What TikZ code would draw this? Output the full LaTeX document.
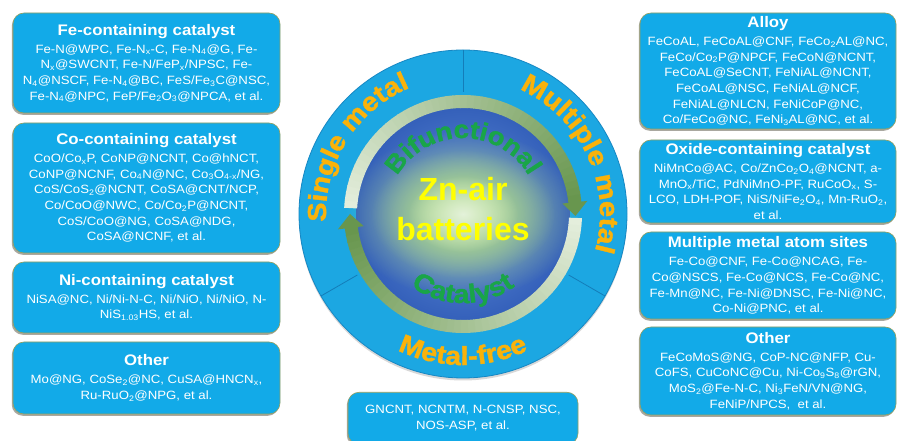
\documentclass[tikz,border=0pt]{standalone}
\usepackage{fontspec}
\setmainfont{Liberation Sans}
\newfontfamily\boxfont{Liberation Sans}[FakeStretch=1.1]
\newfontfamily\arcfont{Liberation Sans Bold}[FakeStretch=1.1, FakeBold=1.6]
\usetikzlibrary{shadows,decorations.text,fadings,backgrounds}
\definecolor{boxcyan}{RGB}{18,170,232}
\definecolor{ringcyan}{RGB}{28,167,226}
\definecolor{ringedge}{RGB}{22,135,195}
\definecolor{divline}{RGB}{20,125,185}
\definecolor{boxedge}{RGB}{150,160,95}
\definecolor{connblue}{RGB}{125,160,220}
\definecolor{conngreen}{RGB}{140,190,100}
\definecolor{goldtxt}{RGB}{250,178,10}
\definecolor{greentxt}{RGB}{25,165,72}
\definecolor{zntxt}{RGB}{255,255,0}
\definecolor{diskin}{RGB}{100,145,218}
\definecolor{diskout}{RGB}{52,96,186}
\definecolor{glowc}{RGB}{175,218,135}
\definecolor{glowcore}{RGB}{228,242,218}
\definecolor{arrpale}{RGB}{228,238,220}
\definecolor{arrdark}{RGB}{104,150,78}
\newcommand{\lo}[1]{\textsubscript{#1}}
\newcommand{\ttl}[1]{{\bfseries\fontsize{15.3}{18}\selectfont #1}}
\tikzfading[name=glowfade, inner color=transparent!0, outer color=transparent!100]
\tikzset{
  catbox/.style={rounded corners=11pt, fill=boxcyan, draw=boxedge, line width=0.6pt,
    drop shadow={shadow xshift=-1.2pt, shadow yshift=-1.8pt, opacity=0.45, fill=black!70!olive},
    text=white, align=center, inner sep=0pt, font=\boxfont\fontsize{12}{15.7}\selectfont},
  conn/.style={draw=connblue, line width=0.8pt},
  divider/.style={draw=divline, line width=0.8pt},
  arctext/.style n args={3}{decorate, decoration={text along path, text align=center,
    text color=#1, text={|\arcfont\fontsize{#2}{#2}\selectfont|#3}}},
}
\begin{document}
\begin{tikzpicture}[x=1pt,y=1pt]
\useasboundingbox[fill=white] (0,0) rectangle (898,441);

% left column
\node[catbox, minimum width=267pt, minimum height=100pt] (fe) at (146.5,378) {\ttl{Fe-containing catalyst}\\[2.3pt]
Fe-N@WPC, Fe-N\lo{x}-C, Fe-N\lo{4}@G, Fe-\\
N\lo{x}@SWCNT, Fe-N/FeP\lo{x}/NPSC, Fe-\\
N\lo{4}@NSCF, Fe-N\lo{4}@BC, FeS/Fe\lo{3}C@NSC,\\
Fe-N\lo{4}@NPC, FeP/Fe\lo{2}O\lo{3}@NPCA, et al.};
\node[catbox, minimum width=267pt, minimum height=130pt] (co) at (146.5,253) {\ttl{Co-containing catalyst}\\[2.3pt]
CoO/Co\lo{x}P, CoNP@NCNT, Co@hNCT,\\
CoNP@NCNF, Co\lo{4}N@NC, Co\lo{3}O\lo{4-x}/NG,\\
CoS/CoS\lo{2}@NCNT, CoSA@CNT/NCP,\\
Co/CoO@NWC, Co/Co\lo{2}P@NCNT,\\
CoS/CoO@NG, CoSA@NDG,\\
CoSA@NCNF, et al.};
\node[catbox, minimum width=267pt, minimum height=71pt] (ni) at (146.5,143.5) {\ttl{Ni-containing catalyst}\\[2.3pt]
NiSA@NC, Ni/Ni-N-C, Ni/NiO, Ni/NiO, N-\\
NiS\lo{1.03}HS, et al.};
\node[catbox, minimum width=267pt, minimum height=72pt] (othL) at (146.5,63) {\ttl{Other}\\[2.3pt]
Mo@NG, CoSe\lo{2}@NC, CuSA@HNCN\lo{x},\\
Ru-RuO\lo{2}@NPG, et al.};

% right column
\node[catbox, minimum width=256pt, minimum height=116pt] (alloy) at (768,370) {\ttl{Alloy}\\[2.3pt]
FeCoAL, FeCoAL@CNF, FeCo\lo{2}AL@NC,\\
FeCo/Co\lo{2}P@NPCF, FeCoN@NCNT,\\
FeCoAL@SeCNT, FeNiAL@NCNT,\\
FeCoAL@NSC, FeNiAL@NCF,\\
FeNiAL@NLCN, FeNiCoP@NC,\\
Co/FeCo@NC, FeNi\lo{3}AL@NC, et al.};
\node[catbox, minimum width=256pt, minimum height=83pt] (oxide) at (768,259.5) {\ttl{Oxide-containing catalyst}\\[2.3pt]
NiMnCo@AC, Co/ZnCo\lo{2}O\lo{4}@NCNT, a-\\
MnO\lo{x}/TiC, PdNiMnO-PF, RuCoO\lo{x}, S-\\
LCO, LDH-POF, NiS/NiFe\lo{2}O\lo{4}, Mn-RuO\lo{2},\\
et al.};
\node[catbox, minimum width=256pt, minimum height=87pt] (mmas) at (768,165.5) {\ttl{Multiple metal atom sites}\\[2.3pt]
Fe-Co@CNF, Fe-Co@NCAG, Fe-\\
Co@NSCS, Fe-Co@NCS, Fe-Co@NC,\\
Fe-Mn@NC, Fe-Ni@DNSC, Fe-Ni@NC,\\
Co-Ni@PNC, et al.};
\node[catbox, minimum width=256pt, minimum height=88pt] (othR) at (768,70) {\ttl{Other}\\[2.3pt]
FeCoMoS@NG, CoP-NC@NFP, Cu-\\
CoFS, CuCoNC@Cu, Ni-Co\lo{9}S\lo{8}@rGN,\\
MoS\lo{2}@Fe-N-C, Ni\lo{3}FeN/VN@NG,\\
FeNiP/NPCS,\ \ et al.};

% bottom box
\node[catbox, minimum width=230pt, minimum height=52pt, anchor=north] (mf) at (463,49) {GNCNT, NCNTM, N-CNSP, NSC,\\
NOS-ASP, et al.};

% central circle
\node[circle, minimum size=328pt, inner sep=0pt, fill=ringcyan, draw=ringedge, line width=0.8pt,
  drop shadow={opacity=0.3, shadow xshift=0pt, shadow yshift=-2.5pt}] (ring) at (463,227) {};

\begin{scope}[shift={(ring.center)}]
  \draw[divider] (90:122) -- (90:164);
  \draw[divider] (210:122) -- (210:164);
  \draw[divider] (330:122) -- (330:164);
  % inner disk
  \shade[inner color=diskin, outer color=diskout] (0,0) circle[radius=107];
  \fill[glowc, path fading=glowfade] (0,0) ellipse[x radius=118, y radius=84];
  \fill[glowc, path fading=glowfade] (0,0) ellipse[x radius=92, y radius=64];
  \fill[glowcore, path fading=glowfade] (0,0) ellipse[x radius=55, y radius=38];
  % top arrow (pale left -> dark right)
  \foreach \k in {0,...,47} {
    \pgfmathsetmacro\aa{177-\k*(171/48)}
    \pgfmathsetmacro\bb{177-(\k+1)*(171/48)-0.4}
    \pgfmathsetmacro\pp{100*\k/47}
    \fill[arrdark!\pp!arrpale] (\aa:106) arc[start angle=\aa, end angle=\bb, radius=106]
      -- (\bb:119) arc[start angle=\bb, end angle=\aa, radius=119] -- cycle;
  }
  \fill[arrdark] (6:100) -- (6:125) -- (-1:112.5) -- cycle;
  % bottom arrow (pale right -> dark left)
  \foreach \k in {0,...,47} {
    \pgfmathsetmacro\aa{-2-\k*(171/48)}
    \pgfmathsetmacro\bb{-2-(\k+1)*(171/48)-0.4}
    \pgfmathsetmacro\pp{100*\k/47}
    \fill[arrdark!\pp!arrpale] (\aa:106) arc[start angle=\aa, end angle=\bb, radius=106]
      -- (\bb:119) arc[start angle=\bb, end angle=\aa, radius=119] -- cycle;
  }
  \fill[arrdark] (-173:100) -- (-173:126) -- (-180:113) -- cycle;
  % ring texts
  \path[arctext={goldtxt}{26}{Single metal}] (218:137) arc[start angle=218, end angle=78, radius=137];
  \path[arctext={goldtxt}{26.5}{Multiple metal}] (95:137) arc[start angle=95, end angle=-45, radius=137];
  \path[arctext={goldtxt}{26}{Metal-free}] (200:151) arc[start angle=200, end angle=340, radius=151];
  \path[arctext={greentxt}{25}{Bifunctional}] (170:76) arc[start angle=170, end angle=10, radius=76];
  \path[arctext={greentxt}{26}{Catalyst}] (200:89) arc[start angle=200, end angle=340, radius=89];
  \node[font=\bfseries\fontsize{32}{40}\selectfont, text=zntxt, align=center, inner sep=0pt] (zn) at (0,5) {Zn-air\\batteries};
\end{scope}

% connectors
\begin{scope}[on background layer]
  \coordinate (feK) at (302,305);
  \coordinate (niK) at (288,229);
  \coordinate (olK) at (304,227);
  \coordinate (alK) at (613,259);
  \coordinate (mmK) at (634,239);
  \coordinate (orK) at (614,227);
  \draw[conn] (fe.east) -| (feK) -- (feK -| ring.center);
  \draw[conn] (co.east) -- (co.east -| ring.center);
  \draw[conn] (ni.east) -| (niK) -- (niK -| ring.center);
  \draw[conn] (othL.east) -| (olK);
  \draw[conn] (alloy.west) -| (alK);
  \draw[conn] (oxide.west) -- (oxide.west -| ring.center);
  \draw[conn] (mmas.west) -| (mmK) -- (mmK -| ring.center);
  \draw[conn] (othR.west) -| (orK);
  \draw[conn, draw=conngreen] (mf.north) -- (ring.center);
\end{scope}
\end{tikzpicture}
\end{document}
